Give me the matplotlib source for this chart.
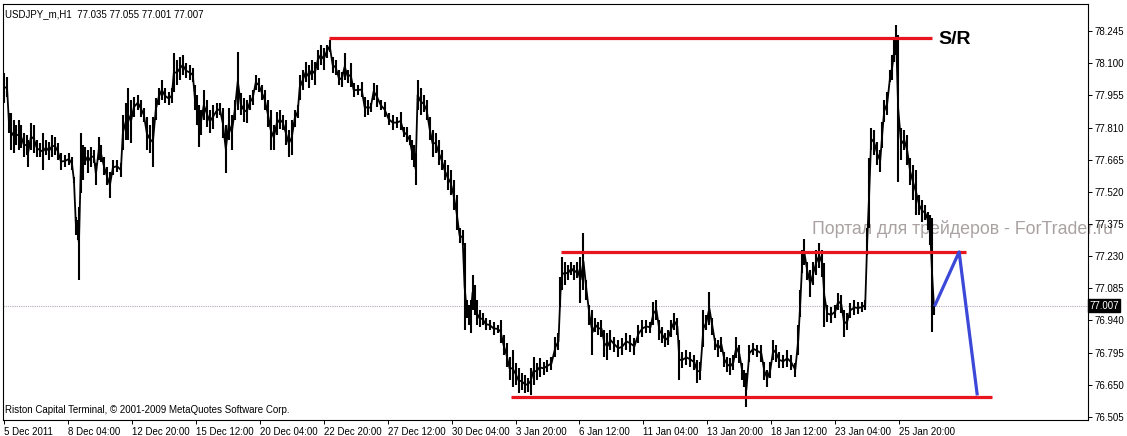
import matplotlib
matplotlib.use('Agg')
import matplotlib.pyplot as plt
import numpy as np

# USDJPY_m H1, sampled bars (bar number from left edge, high, low)
bar_no = [0, 3, 5, 7, 10, 12, 15, 17, 20, 23, 24, 27, 30, 33, 36, 39, 42, 45, 48, 51,
          54, 57, 61, 65, 68, 70, 72, 74, 75, 77, 79, 81, 84, 87, 90, 92, 95, 97, 100, 103,
          106, 109, 113, 117, 119, 122, 124, 127, 130, 134, 137, 140, 143, 146, 149, 152, 155, 158, 161, 165,
          168, 170, 173, 176, 179, 182, 186, 189, 191, 193, 195, 197, 200, 203, 206, 209, 213, 216, 219, 222,
          225, 228, 231, 234, 237, 240, 243, 246, 249, 252, 255, 258, 261, 264, 267, 270, 273, 276, 279, 282,
          285, 288, 291, 294, 296, 299, 302, 305, 308, 311, 314, 317, 320, 323, 326, 329, 332, 335, 338, 341,
          344, 347, 350, 354, 358, 361, 364, 367, 370, 373, 377, 381, 385, 389, 393, 397, 400, 403, 406, 408,
          410, 412, 414, 417, 420, 423, 426, 429, 432, 435, 438, 441, 444, 447, 450, 453, 456, 459, 461, 463,
          465, 467, 469, 471, 473, 476, 479, 482, 486, 490, 494, 497, 500, 503, 506, 509, 512, 515, 518, 521,
          524, 527, 530, 533, 536, 540, 544, 548, 552, 555, 557, 559, 562, 565, 568, 571, 574, 577, 580, 583,
          586, 589, 592, 595, 598, 601, 604, 607, 611, 615, 619, 623, 627, 631, 635, 639, 643, 647, 650, 653,
          656, 659, 662, 665, 668, 671, 674, 676, 679, 683, 687, 691, 694, 697, 700, 703, 706, 709, 712, 715,
          718, 721, 724, 727, 730, 733, 736, 739, 741, 743, 746, 750, 754, 758, 761, 764, 767, 770, 773, 776,
          780, 784, 788, 792, 795, 797, 799, 801, 804, 807, 810, 813, 816, 819, 821, 824, 828, 832, 835, 838,
          841, 844, 847, 851, 855, 859, 862, 864, 866, 868, 871, 874, 877, 879, 881, 884, 887, 889, 891, 893,
          895, 898, 901, 904, 907, 910, 913, 916, 919, 922, 925, 927, 929, 931]

highs = [78.056, 78.038, 77.875, 77.875, 77.844, 77.821, 77.844, 77.821, 77.785, 77.776, 77.754, 77.830, 77.821, 77.754, 77.740, 77.785, 77.754, 77.745, 77.776, 77.767,
         77.740, 77.695, 77.686, 77.695, 77.677, 77.587, 77.407, 77.393, 77.452, 77.785, 77.731, 77.722, 77.709, 77.722, 77.709, 77.650, 77.767, 77.731, 77.677, 77.632,
         77.609, 77.663, 77.663, 77.650, 77.866, 77.920, 77.988, 77.934, 77.947, 77.956, 77.934, 77.898, 77.857, 77.821, 77.857, 77.943, 77.988, 78.024, 77.988, 77.970,
         77.988, 78.146, 78.114, 78.128, 78.137, 78.101, 78.092, 78.078, 78.002, 77.956, 77.911, 77.889, 77.979, 77.934, 77.889, 77.911, 77.920, 77.920, 77.898, 77.821,
         77.898, 77.866, 77.934, 78.150, 77.965, 77.943, 77.934, 77.956, 77.979, 78.047, 78.033, 78.002, 77.979, 77.934, 77.889, 77.821, 77.880, 77.889, 77.866, 77.844,
         77.799, 77.844, 77.889, 77.911, 78.047, 78.069, 78.105, 78.092, 78.114, 78.105, 78.159, 78.182, 78.168, 78.182, 78.204, 78.128, 78.114, 78.069, 78.060, 78.146,
         78.069, 78.101, 78.011, 78.002, 78.015, 77.947, 77.934, 77.920, 78.011, 78.002, 77.934, 77.925, 77.875, 77.866, 77.857, 77.880, 77.812, 77.812, 77.776, 77.754,
         77.731, 77.695, 78.024, 77.988, 77.956, 77.934, 77.857, 77.799, 77.785, 77.754, 77.709, 77.663, 77.641, 77.618, 77.573, 77.506, 77.357, 77.348, 77.290, 77.032,
         77.010, 77.032, 77.145, 77.100, 77.032, 76.987, 76.974, 76.951, 76.942, 76.933, 76.920, 76.942, 76.875, 76.839, 76.776, 76.807, 76.749, 76.726, 76.704, 76.695,
         76.681, 76.726, 76.776, 76.749, 76.771, 76.753, 76.762, 76.776, 76.866, 76.884, 77.136, 77.226, 77.204, 77.190, 77.204, 77.190, 77.204, 77.226, 77.334, 77.123,
         77.010, 76.987, 76.951, 76.933, 76.942, 76.897, 76.884, 76.897, 76.866, 76.852, 76.861, 76.884, 76.875, 76.861, 76.920, 76.942, 76.942, 76.933, 77.023, 77.032,
         76.942, 76.911, 76.884, 76.897, 76.942, 76.974, 76.951, 76.852, 76.798, 76.807, 76.798, 76.785, 76.762, 76.753, 76.987, 76.965, 77.069, 76.951, 76.861, 76.852,
         76.866, 76.798, 76.776, 76.771, 76.785, 76.866, 76.830, 76.749, 76.717, 76.704, 76.830, 76.839, 76.830, 76.830, 76.753, 76.717, 76.753, 76.852, 76.830, 76.798,
         76.785, 76.807, 76.785, 76.749, 76.920, 77.078, 77.258, 77.307, 77.204, 77.168, 77.204, 77.258, 77.289, 77.258, 77.199, 77.010, 77.001, 77.010, 77.064, 77.055,
         76.987, 76.974, 77.019, 77.032, 77.023, 77.023, 77.032, 77.357, 77.672, 77.808, 77.799, 77.745, 77.709, 77.835, 77.934, 77.970, 78.069, 78.137, 78.204, 78.272,
         78.227, 77.808, 77.799, 77.776, 77.672, 77.641, 77.618, 77.506, 77.483, 77.461, 77.429, 77.416, 77.402, 77.010]

lows = [77.920, 77.947, 77.785, 77.709, 77.695, 77.731, 77.709, 77.718, 77.677, 77.686, 77.632, 77.709, 77.695, 77.677, 77.677, 77.618, 77.686, 77.663, 77.677, 77.686,
        77.663, 77.618, 77.632, 77.641, 77.618, 77.560, 77.326, 77.303, 77.123, 77.515, 77.573, 77.641, 77.605, 77.632, 77.650, 77.551, 77.663, 77.654, 77.596, 77.551,
        77.492, 77.596, 77.609, 77.587, 77.709, 77.754, 77.754, 77.740, 77.857, 77.889, 77.857, 77.835, 77.709, 77.695, 77.632, 77.844, 77.911, 77.934, 77.920, 77.911,
        77.920, 77.970, 78.002, 78.024, 78.047, 78.033, 78.024, 78.015, 77.889, 77.821, 77.722, 77.776, 77.844, 77.812, 77.785, 77.803, 77.853, 77.866, 77.763, 77.605,
        77.754, 77.709, 77.844, 77.889, 77.866, 77.835, 77.830, 77.889, 77.911, 77.979, 77.970, 77.934, 77.889, 77.812, 77.709, 77.709, 77.776, 77.803, 77.799, 77.731,
        77.677, 77.686, 77.812, 77.853, 77.934, 77.979, 78.015, 77.988, 78.024, 78.002, 78.069, 78.092, 78.069, 78.123, 78.150, 78.056, 78.047, 78.002, 77.993, 78.024,
        78.011, 77.993, 77.947, 77.956, 77.947, 77.857, 77.866, 77.880, 77.934, 77.902, 77.889, 77.857, 77.821, 77.799, 77.807, 77.799, 77.767, 77.745, 77.731, 77.663,
        77.632, 77.551, 77.889, 77.866, 77.880, 77.844, 77.754, 77.677, 77.695, 77.641, 77.618, 77.573, 77.528, 77.506, 77.438, 77.348, 77.290, 77.281, 76.897, 76.951,
        76.920, 76.884, 76.987, 76.965, 76.920, 76.911, 76.920, 76.897, 76.897, 76.875, 76.884, 76.839, 76.785, 76.731, 76.672, 76.641, 76.650, 76.614, 76.627, 76.614,
        76.618, 76.605, 76.650, 76.672, 76.686, 76.695, 76.708, 76.717, 76.776, 76.807, 76.999, 77.078, 77.100, 77.123, 77.145, 77.123, 77.132, 77.019, 77.078, 77.032,
        76.920, 76.785, 76.888, 76.875, 76.866, 76.776, 76.762, 76.807, 76.798, 76.776, 76.785, 76.807, 76.798, 76.785, 76.839, 76.866, 76.884, 76.884, 76.920, 76.942,
        76.852, 76.839, 76.821, 76.830, 76.866, 76.897, 76.875, 76.672, 76.726, 76.740, 76.731, 76.717, 76.659, 76.672, 76.821, 76.897, 76.920, 76.875, 76.807, 76.776,
        76.798, 76.731, 76.708, 76.695, 76.717, 76.771, 76.749, 76.672, 76.641, 76.550, 76.753, 76.785, 76.776, 76.753, 76.672, 76.641, 76.681, 76.762, 76.753, 76.726,
        76.726, 76.731, 76.717, 76.686, 76.785, 76.956, 77.154, 77.190, 77.123, 77.046, 77.100, 77.145, 77.177, 77.136, 76.911, 76.933, 76.929, 76.951, 76.987, 76.974,
        76.866, 76.897, 76.951, 76.965, 76.969, 76.978, 76.987, 77.235, 77.357, 77.709, 77.686, 77.641, 77.609, 77.718, 77.835, 77.866, 78.015, 78.024, 78.105, 78.137,
        77.564, 77.663, 77.709, 77.641, 77.551, 77.483, 77.416, 77.416, 77.384, 77.393, 77.348, 77.280, 76.888, 76.965]

x_ticks = [0, 64, 128, 192, 256, 320, 384, 448, 512, 576, 640, 704, 768, 832, 896]
x_labels = ['5 Dec 2011', '8 Dec 04:00', '12 Dec 20:00', '15 Dec 12:00', '20 Dec 04:00',
            '22 Dec 20:00', '27 Dec 12:00', '30 Dec 04:00', '3 Jan 20:00', '6 Jan 12:00',
            '11 Jan 04:00', '13 Jan 20:00', '18 Jan 12:00', '23 Jan 04:00', '25 Jan 20:00']
y_ticks = [78.245, 78.100, 77.955, 77.810, 77.665, 77.520, 77.375, 77.230, 77.085,
           76.940, 76.795, 76.650, 76.505]

last_price = 77.007

# support / resistance lines: (start bar, end bar, price)
sr_lines = [(325, 929, 78.212), (558, 963, 77.247), (507, 989, 76.593)]
# projected path drawn in blue
proj_bars = [932, 956, 974]
proj_prices = [77.010, 77.249, 76.609]

plt.rcParams['font.family'] = ['Liberation Sans', 'DejaVu Sans']

fig = plt.figure(figsize=(11.27, 4.36), dpi=100)
ax = fig.add_axes([3 / 1127, 16 / 436, 1085 / 1127, 416 / 436])

# watermark behind everything
ax.text(809, 77.352, 'Портал для трейдеров - ForTrader.ru', fontsize=12.8,
        color='#aaa2a2', va='center', ha='left', zorder=0, clip_on=False)

# bid line
ax.axhline(last_price, color='#b9a9bd', lw=0.8, linestyle=(0, (1, 1)), zorder=1)

# price bars
mids = [(h + l) / 2 for h, l in zip(highs, lows)]
ax.vlines(bar_no, lows, highs, color='black', lw=1.5, zorder=2)
ax.plot(bar_no, mids, color='black', lw=1.3, zorder=2)

for x0, x1, p in sr_lines:
    ax.plot([x0, x1], [p, p], color='#e8141e', lw=2.3, solid_capstyle='butt', zorder=3)

ax.plot(proj_bars, proj_prices, color='#3b48d8', lw=2.3, zorder=3)

ax.text(935, 78.206, 'S/R', fontsize=14, fontweight='bold', color='black',
        va='center', ha='left')

ax.set_xlim(-1, 1085)
ax.set_ylim(76.491, 78.367)

ax.set_xticks(x_ticks)
ax.set_xticklabels(x_labels, fontsize=7, ha='left')
ax.yaxis.tick_right()
ax.set_yticks(y_ticks)
ax.set_yticklabels([f'{v:.3f}' for v in y_ticks], fontsize=7)
ax.tick_params(axis='both', direction='out', length=3, width=0.7, color='black', pad=2)

for s in ax.spines.values():
    s.set_linewidth(0.8)
    s.set_color('black')

# current price tag on the right axis
ax.text(1.001, last_price, f'{last_price:.3f}', transform=ax.get_yaxis_transform(),
        fontsize=7, color='white', va='center', ha='left',
        bbox=dict(boxstyle='square,pad=0.15', fc='black', ec='black'))

ax.text(2 / 1085, 0.987, 'USDJPY_m,H1  77.035 77.055 77.001 77.007', transform=ax.transAxes,
        fontsize=7, va='top', ha='left')
ax.text(2 / 1085, 0.012, 'Riston Capital Terminal, © 2001-2009 MetaQuotes Software Corp.',
        transform=ax.transAxes, fontsize=7, va='bottom', ha='left')

fig.savefig('out.png', dpi=100)
